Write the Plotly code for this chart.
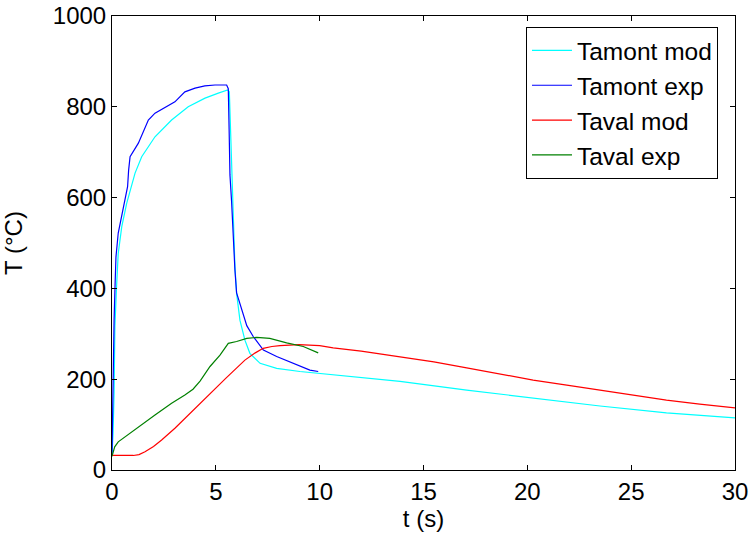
import plotly.graph_objects as go

# Tamont mod (cyan)
t_amont_mod = [0, 0.05, 0.1, 0.14, 0.22, 0.3, 0.47, 0.71, 1.11, 1.43, 2.07, 2.87, 3.67, 4.48,
               5.12, 5.57, 5.65, 5.76, 5.84, 5.92, 6.0, 6.16, 6.4, 6.64, 7.13, 7.93, 9.05, 9.93,
               11.46, 13.87, 17.08, 20.28, 23.5, 26.7, 30]
v_amont_mod = [33, 80, 169, 316, 404, 477, 536, 588, 654, 690, 734, 771, 800, 819,
               830, 837, 833, 683, 573, 448, 389, 330, 286, 257, 235, 224, 217, 213,
               206, 195, 176, 158, 141, 126, 115]

# Tamont exp (blue)
t_amont_exp = [0, 0.04, 0.1, 0.14, 0.19, 0.3, 0.43, 0.62, 0.75, 0.8, 0.87, 1.27, 1.75, 2.07,
               2.47, 3.03, 3.51, 4.0, 4.47, 4.96, 5.52, 5.6, 5.64, 5.68, 5.76, 5.84, 5.92, 6.0,
               6.16, 6.32, 6.49, 6.8, 7.29, 7.93, 8.73, 9.53, 9.93]
v_amont_exp = [33, 200, 330, 396, 469, 522, 551, 595, 624, 660, 690, 720, 771, 786,
               797, 811, 833, 841, 846, 848, 848, 840, 750, 650, 590, 500, 440, 390,
               365, 340, 318, 294, 264, 250, 235, 220, 217]

# Taval mod (red)
t_aval_mod = [0, 1.03, 1.3, 1.59, 2.0, 2.39, 3.03, 3.99, 4.88, 5.5, 6.4, 6.9, 7.28, 7.7, 8.09,
              9.0, 10.0, 10.65, 12.0, 13.87, 15.5, 17.08, 18.7, 20.28, 21.9, 23.5, 25.1, 26.7,
              28.3, 30]
v_aval_mod = [32, 32, 34, 40, 52, 66, 92, 136, 176, 203, 242, 258, 268, 272, 274,
              276, 274, 269, 262, 250, 238, 225, 212, 198, 187, 176, 165, 154,
              145, 137]

# Taval exp (green)
t_aval_exp = [0, 0.05, 0.13, 0.3, 0.62, 1.27, 2.07, 2.87, 3.51, 3.9, 4.24, 4.72, 5.2, 5.6,
              6.0, 6.49, 6.97, 7.6, 8.41, 9.21, 9.93]
v_aval_exp = [30, 40, 51, 62, 73, 95, 121, 147, 165, 178, 196, 228, 253, 279,
              283, 290, 292, 290, 280, 272, 258]

x_ticks = [0, 5, 10, 15, 20, 25, 30]
y_ticks = [0, 200, 400, 600, 800, 1000]

fig = go.Figure()
series = [
    ("Tamont mod", t_amont_mod, v_amont_mod, "#00FFFF"),
    ("Tamont exp", t_amont_exp, v_amont_exp, "#0000FF"),
    ("Taval mod", t_aval_mod, v_aval_mod, "#FF0000"),
    ("Taval exp", t_aval_exp, v_aval_exp, "#008000"),
]
for name, t, v, c in series:
    fig.add_trace(go.Scatter(x=t, y=v, mode="lines", name=name,
                             line=dict(color=c, width=1.2)))

font = "Liberation Sans, Arial, sans-serif"
axis_common = dict(showline=True, linecolor="black", linewidth=1, mirror="allticks",
                   ticks="inside", ticklen=5, tickcolor="black", showgrid=False,
                   zeroline=False, automargin=False, ticklabeloverflow="allow",
                   tickfont=dict(family=font, size=24, color="black"))

fig.update_xaxes(range=[0, 30], tickvals=x_ticks, ticktext=[str(v) for v in x_ticks],
                 title=dict(text="t (s)", font=dict(family=font, size=24, color="black"),
                            standoff=4),
                 **axis_common)
fig.update_yaxes(range=[0, 1000], tickvals=y_ticks, ticktext=[str(v) for v in y_ticks],
                 title=dict(text="T (°C)", font=dict(family=font, size=24, color="black"),
                            standoff=27),
                 **axis_common)

fig.update_layout(
    width=749, height=541,
    margin=dict(l=112, r=14, t=16, b=71),
    paper_bgcolor="white", plot_bgcolor="white",
    showlegend=True,
    legend=dict(x=0.9727, y=0.9758, xanchor="right", yanchor="top",
                bgcolor="white", bordercolor="black", borderwidth=1,
                font=dict(family=font, size=24.5, color="black"),
                tracegroupgap=0, itemwidth=40),
)

fig.write_html("out.html", config={"displayModeBar": False},
               post_script="document.body.style.margin='0';document.body.style.overflow='hidden';")
